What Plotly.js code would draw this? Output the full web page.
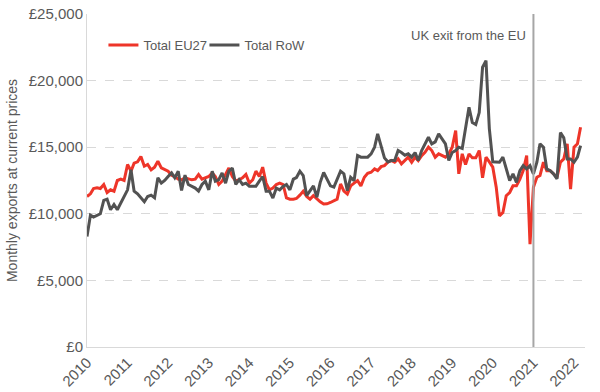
<!DOCTYPE html>
<html>
<head>
<meta charset="utf-8">
<script src="https://cdn.plot.ly/plotly-3.0.1.min.js"></script>
<style>html,body{margin:0;padding:0;background:#fff;}#chart{width:600px;height:392px;}</style>
</head>
<body>
<div id="chart"></div>
<script>
// Monthly data, Jan 2010 – Mar 2022 (£ million)
var startYear = 2010;
var eu27 = [
  11300, 11500, 11900, 11950, 11900, 12200, 11600, 11800, 11700, 12500, 12600, 12500,
  13700, 13200, 13800, 13900, 14300, 13570, 13700, 13300, 13500, 13950, 13450, 13300,
  13200, 12900, 12800, 12600, 12550, 12700, 12600, 12550, 12600, 12950, 12600, 12700,
  12800, 13070, 12800, 12200, 12450, 12950, 13440, 12800, 12450, 12560, 12700, 12950,
  12300, 12560, 13200, 12800, 13500, 12300, 11800, 11930, 12200, 12300, 12200, 11200,
  11100, 11100, 11150, 11400, 11700, 11300, 11100, 11360, 11100, 10900, 10730, 10750,
  10850, 11000, 11100, 12240, 11700, 11490, 12100, 12300, 12490, 12100, 12740, 13040,
  13120, 13370, 13240, 13540, 13620, 13870, 14000, 13870, 14120, 13750, 14000, 14250,
  13870, 14250, 14000, 14370, 14620, 15000, 14750, 14250, 14500, 14370, 14250, 14500,
  15000, 16250, 13000, 14500, 13700, 14500, 14200, 14200, 14750, 12700, 14250, 13900,
  13500, 12000, 9850, 10100, 11360, 11600, 12100, 12100, 12600, 13240, 14370, 7720,
  12000, 12740, 12870, 13870, 13240, 13240, 12990, 12740, 13870, 14120, 15250, 11860,
  15000, 15250, 16500
];
var row = [
  8300, 9900, 9750, 9900, 10000, 11000, 11100, 10300, 10700, 10300, 10800, 11300,
  11800, 13300, 11700, 11500, 11200, 10900, 11300, 11400, 11200, 12700, 12300, 12500,
  12800, 13070, 12700, 13200, 11750, 12900, 12200, 12060, 11930, 11700, 12200, 12450,
  11800, 13200, 12450, 12560, 13070, 12300, 13200, 13440, 12200, 12560, 12200, 12300,
  12060, 12060, 12060, 12450, 12800, 11700, 11700, 11180, 11930, 11800, 12060, 12200,
  11800, 12600, 12720, 13200, 12870, 11360, 11740, 12100, 11240, 12360, 13100, 12600,
  12100, 12000, 12600, 13200, 13000, 11740, 12740, 12490, 14370, 14250, 14250, 14250,
  14500, 15000, 16000, 15000, 14200, 13900, 14000, 14000, 14750, 14600, 14400, 14500,
  14250, 14600, 14000, 14750, 15250, 15750, 15250, 15400, 16000, 15600, 15250, 14000,
  14600, 14750, 15000, 14900, 16400, 18000, 16850, 16700, 17600, 21000, 21500, 16400,
  13900, 13870, 13870, 14250, 13370, 12490, 13000, 12360, 13240, 13620, 13370, 13620,
  13000, 13870, 15250, 15000, 13370, 13240, 13000, 12620, 16100, 15700, 14120, 14120,
  13870, 14250, 15120
];
var seriesNames = ['Total EU27', 'Total RoW'];
var exitDate = '2021-01-01';
var exitLabel = 'UK exit from the EU';
var yTitle = 'Monthly exports at current prices';

function pad(n){ return n < 10 ? '0' + n : '' + n; }
var months = [];
for (var i = 0; i < eu27.length; i++) {
  var y = startYear + Math.floor(i / 12), m = (i % 12) + 1;
  months.push(y + '-' + pad(m) + '-01');
}

var font = 'Liberation Sans, Arial, sans-serif';
var traces = [
  {x: months, y: eu27, name: seriesNames[0], type: 'scatter', mode: 'lines',
   line: {color: '#EE3529', width: 3}},
  {x: months, y: row, name: seriesNames[1], type: 'scatter', mode: 'lines',
   line: {color: '#525252', width: 3}}
];

var layout = {
  width: 600, height: 392,
  margin: {l: 87, r: 15, t: 14, b: 45},
  paper_bgcolor: '#fff', plot_bgcolor: '#fff',
  font: {family: font, size: 15, color: '#595959'},
  showlegend: true,
  legend: {orientation: 'h', x: 0.033, y: 0.907, xanchor: 'left', yanchor: 'middle',
           font: {family: font, size: 13, color: '#595959'}, bgcolor: 'rgba(0,0,0,0)',
           entrywidth: 56, traceorder: 'normal'},
  xaxis: {type: 'date', range: ['2010-01-01', '2022-04-10'], dtick: 'M12', tick0: '2010-01-01',
          tickformat: '%Y', tickangle: -45, showgrid: false, zeroline: false,
          showline: true, linecolor: '#D9D9D9', linewidth: 1, ticks: '',
          tickfont: {family: font, size: 15, color: '#595959'}},
  yaxis: {range: [0, 25000], dtick: 5000, tickprefix: '£', tickformat: ',d',
          showgrid: true, gridcolor: '#D9D9D9', griddash: 'dash', gridwidth: 1,
          zeroline: false, showline: true, linecolor: '#D9D9D9', linewidth: 1, ticks: '',
          tickfont: {family: font, size: 15, color: '#595959'},
          title: {text: yTitle, font: {family: font, size: 14, color: '#595959'}, standoff: 7}},
  shapes: [{type: 'line', xref: 'x', yref: 'paper', x0: exitDate, x1: exitDate, y0: 0, y1: 1,
            line: {color: '#A6A6A6', width: 2}}],
  annotations: [{xref: 'x', yref: 'paper', x: exitDate, y: 0.935, xanchor: 'right', yanchor: 'middle',
                 xshift: -5, text: exitLabel, showarrow: false,
                 font: {family: font, size: 13, color: '#595959'}}]
};

Plotly.newPlot('chart', traces, layout, {displayModeBar: false, staticPlot: true});
</script>
</body>
</html>
